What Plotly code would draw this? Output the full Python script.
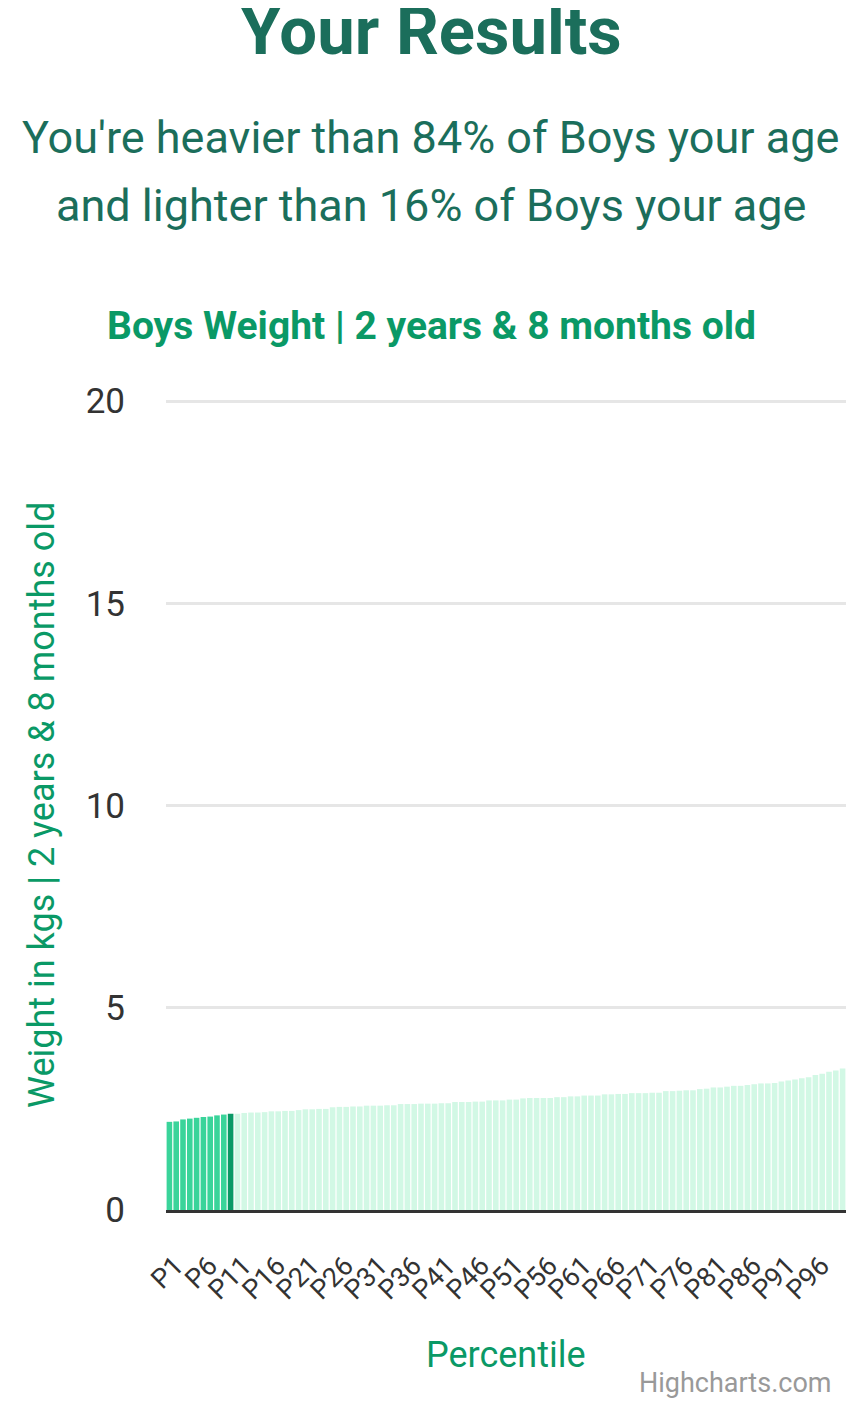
import plotly.graph_objects as go

# --- data ---
percentiles = [f"P{i}" for i in range(1, 101)]
weights_kg = [
    2.18, 2.19, 2.24, 2.26, 2.28, 2.30, 2.31, 2.34, 2.36, 2.38,
    2.38, 2.40, 2.41, 2.41, 2.42, 2.44, 2.44, 2.45, 2.45, 2.47,
    2.49, 2.49, 2.50, 2.50, 2.54, 2.55, 2.55, 2.56, 2.56, 2.58,
    2.58, 2.58, 2.59, 2.59, 2.62, 2.62, 2.62, 2.63, 2.63, 2.63,
    2.64, 2.64, 2.67, 2.67, 2.67, 2.68, 2.68, 2.71, 2.71, 2.71,
    2.73, 2.73, 2.76, 2.77, 2.77, 2.77, 2.77, 2.79, 2.79, 2.81,
    2.81, 2.83, 2.83, 2.83, 2.86, 2.86, 2.87, 2.87, 2.89, 2.89,
    2.89, 2.90, 2.90, 2.94, 2.94, 2.95, 2.96, 2.96, 2.99, 3.00,
    3.03, 3.03, 3.05, 3.07, 3.07, 3.09, 3.11, 3.13, 3.13, 3.14,
    3.18, 3.20, 3.23, 3.26, 3.28, 3.34, 3.37, 3.42, 3.45, 3.50,
]
user_percentile = "P10"   # the highlighted bar
x_tick_labels = percentiles[::5]   # P1, P6, ... P96
y_tick_values = [0, 5, 10, 15, 20]

title_text = "Your Results"
subtitle_lines = ["You're heavier than 84% of Boys your age",
                  "and lighter than 16% of Boys your age"]
chart_title = "Boys Weight | 2 years & 8 months old"
y_title = "Weight in kgs | 2 years & 8 months old"
x_title = "Percentile"

# colours
TEAL = "#1b6e5b"
GREEN = "#0a9966"
BELOW = "#3ad49a"
HERE = "#0a9966"
ABOVE = "#d2f8e5"

user_idx = percentiles.index(user_percentile)
bar_colors = [BELOW if i < user_idx else HERE if i == user_idx else ABOVE
              for i in range(len(percentiles))]

# the page body has an 8px margin, so the figure sits 8px in from the corner
OFF = 8
W, H = 863 - OFF, 1406 - OFF
M_L, M_R, M_T, M_B = 166 - OFF, 17, 400 - OFF, 196
plot_h = H - M_T - M_B
plot_w = W - M_L - M_R


def py(pix):
    # page pixel y -> paper coordinate
    return (H - M_B - (pix - OFF)) / plot_h


def px_(pix):
    return ((pix - OFF) - M_L) / plot_w


fig = go.Figure(go.Bar(
    x=percentiles,
    y=weights_kg,
    marker=dict(color=bar_colors, line=dict(width=0)),
    hovertemplate="%{x}: %{y:.2f} kg<extra></extra>",
))

fig.update_layout(
    width=W, height=H,
    margin=dict(l=M_L, r=M_R, t=M_T, b=M_B),
    paper_bgcolor="white", plot_bgcolor="white",
    font=dict(family="Roboto, sans-serif", color="#333333"),
    bargap=0.18,
    showlegend=False,
)

fig.update_yaxes(
    range=[0, 20.03],
    tickvals=y_tick_values,
    tickfont=dict(size=35, color="#333333"),
    showgrid=True, gridcolor="#e6e6e6", gridwidth=2.5,
    zeroline=False, showline=False,
    ticks="", ticklabelstandoff=40,
)

fig.update_xaxes(
    type="category",
    tickvals=x_tick_labels,
    tickangle=-45,
    tickfont=dict(size=27, color="#333333"),
    showline=True, linecolor="#333333", linewidth=3,
    ticks="", showgrid=False, ticklabelstandoff=26, ticklabelshift=6,
)

annotations = [
    dict(text=f"<b>{title_text}</b>", x=px_(431), xref="paper", y=py(31), yref="paper",
         font=dict(size=67, color=TEAL), showarrow=False, xanchor="center", yanchor="middle"),
    dict(text=subtitle_lines[0], x=px_(430), xref="paper", y=py(137), yref="paper",
         font=dict(size=45, color=TEAL), showarrow=False, xanchor="center", yanchor="middle"),
    dict(text=subtitle_lines[1], x=px_(431), xref="paper", y=py(205), yref="paper",
         font=dict(size=45, color=TEAL), showarrow=False, xanchor="center", yanchor="middle"),
    dict(text=f"<b>{chart_title}</b>", x=px_(431), xref="paper", y=py(326), yref="paper",
         font=dict(size=39, color=GREEN), showarrow=False, xanchor="center", yanchor="middle"),
    dict(text=y_title, x=px_(42), xref="paper", y=py(805), yref="paper", textangle=-90,
         font=dict(size=36, color=GREEN), showarrow=False, xanchor="center", yanchor="middle"),
    dict(text=x_title, x=px_(506), xref="paper", y=py(1355), yref="paper",
         font=dict(size=36, color=GREEN), showarrow=False, xanchor="center", yanchor="middle"),
    dict(text="Highcharts.com", x=px_(833), xref="paper", y=py(1383), yref="paper",
         font=dict(size=27, color="#999999"), showarrow=False, xanchor="right", yanchor="middle"),
]
fig.update_layout(annotations=annotations)

fig.write_html("out.html")
